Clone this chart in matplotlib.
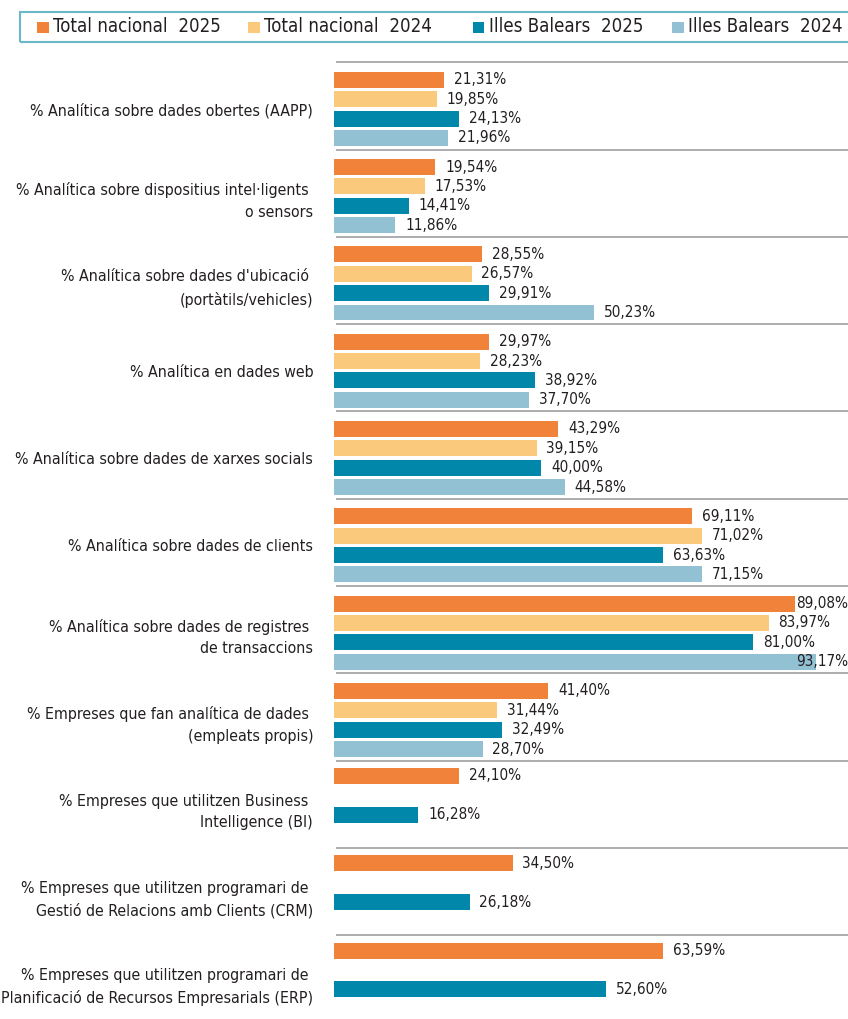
import matplotlib
matplotlib.use("Agg")
import matplotlib.pyplot as plt
from matplotlib import font_manager
from matplotlib.patches import Rectangle
import numpy as np

categories = [
    "% Analítica sobre dades obertes (AAPP)",
    "% Analítica sobre dispositius intel·ligents \no sensors",
    "% Analítica sobre dades d'ubicació \n(portàtils/vehicles)",
    "% Analítica en dades web",
    "% Analítica sobre dades de xarxes socials",
    "% Analítica sobre dades de clients",
    "% Analítica sobre dades de registres \nde transaccions",
    "% Empreses que fan analítica de dades \n(empleats propis)",
    "% Empreses que utilitzen Business \nIntelligence (BI)",
    "% Empreses que utilitzen programari de \nGestió de Relacions amb Clients (CRM)",
    "% Empreses que utilitzen programari de \nPlanificació de Recursos Empresarials (ERP)",
]

series_names = ["Total nacional  2025", "Total nacional  2024",
                "Illes Balears  2025", "Illes Balears  2024"]
nac_2025 = [21.31, 19.54, 28.55, 29.97, 43.29, 69.11, 89.08, 41.40, 24.10, 34.50, 63.59]
nac_2024 = [19.85, 17.53, 26.57, 28.23, 39.15, 71.02, 83.97, 31.44, None, None, None]
ib_2025 = [24.13, 14.41, 29.91, 38.92, 40.00, 63.63, 81.00, 32.49, 16.28, 26.18, 52.60]
ib_2024 = [21.96, 11.86, 50.23, 37.70, 44.58, 71.15, 93.17, 28.70, None, None, None]

colors = ["#f0823a", "#fbc97b", "#0087a9", "#92c1d3"]
text_color = "#231f20"


def pick_narrow_font():
    # look for a condensed sans face among the installed fonts
    cands = []
    for f in font_manager.fontManager.ttflist:
        tag = (f.name + " " + f.fname).lower()
        if "mono" in tag or "cjk" in tag or "serif" in f.name.lower():
            continue
        if f.style != "normal" or f.weight not in (400, "normal", "regular"):
            continue
        narrow = ("narrow" in tag or "condensed" in tag
                  or f.stretch in ("condensed", "semi-condensed", "extra-condensed"))
        if "semicondensed" in tag.replace("-", "") or "semi-condensed" == f.stretch:
            rank = 1
        elif "extracondensed" in tag.replace("-", ""):
            rank = 3
        else:
            rank = 0
        if narrow:
            cands.append((rank, f))
    cands.sort(key=lambda t: t[0])
    return cands[0][1] if cands else None


nf = pick_narrow_font()
if nf is not None:
    plt.rcParams["font.family"] = [nf.name, "DejaVu Sans"]
    plt.rcParams["font.stretch"] = nf.stretch
    fs_cat, fs_val, fs_leg = 11.4, 11.0, 13.4
else:
    plt.rcParams["font.family"] = ["Liberation Sans", "DejaVu Sans"]
    fs_cat, fs_val, fs_leg = 10.5, 10.5, 12

W, H = 848, 1019
fig = plt.figure(figsize=(W / 100, H / 100), dpi=100)

# axes placed in pixel terms
left, right = 334, 848
top, grp_h = 62.3, 87.3
n = len(categories)
bottom = top + n * grp_h
ax = fig.add_axes([left / W, 1 - bottom / H, (right - left) / W, (bottom - top) / H])
xmax = 99.3
ax.set_xlim(0, xmax)
ax.set_ylim(n, 0)

slot0, pitch, bar_h = 0.2, 0.222, 0.183
gap = 1.9
idx = np.arange(n)
two_bar = [nac_2024[i] is None for i in idx]
for k, vals in enumerate([nac_2025, nac_2024, ib_2025, ib_2024]):
    ys = [i + slot0 + k * pitch - (0.025 if two_bar[i] else 0) for i in idx if vals[i] is not None]
    vs = [v for v in vals if v is not None]
    ax.barh(ys, vs, height=bar_h, color=colors[k], linewidth=0)
    for y, v in zip(ys, vs):
        s = f"{v:.2f}".replace(".", ",") + "%"
        if v + gap + 10 > xmax:
            ax.text(xmax, y, s, ha="right", va="center", fontsize=fs_val, color=text_color)
        else:
            ax.text(v + gap, y, s, ha="left", va="center", fontsize=fs_val, color=text_color)

ax.hlines(idx, 0.4, xmax, color="#a0a0a0", linewidth=1.2, clip_on=False)

ax.set_yticks(idx + slot0 + 1.5 * pitch)
ax.set_yticklabels(categories, fontsize=fs_cat, color=text_color, linespacing=1.55)
ax.tick_params(axis="y", length=0, pad=15)
ax.set_xticks([])
for sp in ax.spines.values():
    sp.set_visible(False)

# legend band at the top
fig.patches.append(Rectangle((20 / W, 1 - 42 / H), 840 / W, 30 / H, transform=fig.transFigure,
                             fill=False, edgecolor="#6bb8c8", linewidth=1.5))
leg_x = [37, 248, 473, 672]
for k, name in enumerate(series_names):
    fig.patches.append(Rectangle((leg_x[k] / W, 1 - 33 / H), 11.5 / W, 11.5 / H,
                                 transform=fig.transFigure, facecolor=colors[k], linewidth=0))
    fig.text((leg_x[k] + 16) / W, 1 - 27 / H, name, ha="left", va="center",
             fontsize=fs_leg, color=text_color)

fig.savefig("out.png", dpi=100)
